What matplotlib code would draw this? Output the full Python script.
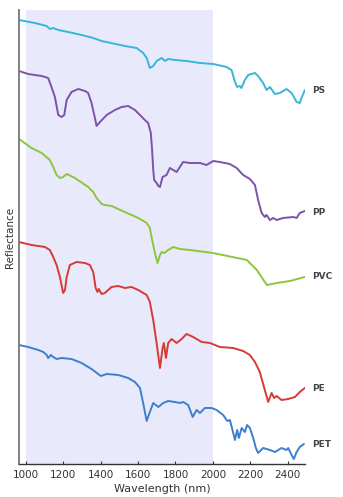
import matplotlib
matplotlib.use("Agg")
import matplotlib.pyplot as plt

# Wavelength (nm) and stacked reflectance (arbitrary units, offset per polymer)
ps_wl = [963, 1048, 1111, 1128, 1146, 1173, 1226, 1298, 1360, 1405, 1529, 1592, 1627, 1646, 1663, 1681,
         1699, 1726, 1743, 1761, 1797, 1859, 1931, 2002, 2073, 2100, 2118, 2130, 2144, 2153, 2171, 2189,
         2225, 2242, 2269, 2287, 2305, 2332, 2358, 2394, 2421, 2448, 2465, 2474, 2492]
ps_r = [4.44, 4.41, 4.38, 4.35, 4.36, 4.34, 4.32, 4.29, 4.26, 4.23, 4.18, 4.16, 4.11, 4.06, 3.96, 3.98,
        4.03, 4.06, 4.03, 4.05, 4.04, 4.03, 4.01, 4.00, 3.97, 3.94, 3.82, 3.77, 3.78, 3.76, 3.84, 3.89,
        3.91, 3.88, 3.81, 3.74, 3.77, 3.70, 3.71, 3.75, 3.71, 3.62, 3.61, 3.66, 3.74]

pp_wl = [963, 1012, 1084, 1119, 1137, 1155, 1173, 1191, 1205, 1218, 1244, 1280, 1316, 1333, 1351, 1369,
         1378, 1396, 1432, 1476, 1512, 1547, 1583, 1610, 1636, 1654, 1668, 1675, 1681, 1686, 1699, 1708,
         1717, 1731, 1752, 1770, 1806, 1841, 1877, 1931, 1966, 2002, 2037, 2091, 2127, 2162, 2198, 2225,
         2242, 2261, 2278, 2287, 2305, 2323, 2341, 2376, 2430, 2448, 2465, 2492]
pp_r = [3.93, 3.90, 3.88, 3.86, 3.77, 3.67, 3.49, 3.47, 3.49, 3.64, 3.72, 3.75, 3.73, 3.71, 3.61, 3.46,
        3.38, 3.42, 3.49, 3.54, 3.57, 3.58, 3.54, 3.49, 3.44, 3.41, 3.31, 3.14, 2.94, 2.84, 2.81, 2.78,
        2.77, 2.87, 2.89, 2.96, 2.92, 3.02, 3.01, 3.01, 2.99, 3.03, 3.02, 3.00, 2.96, 2.89, 2.85, 2.79,
        2.64, 2.51, 2.47, 2.49, 2.44, 2.46, 2.44, 2.46, 2.47, 2.46, 2.51, 2.53]

pvc_wl = [963, 1030, 1084, 1128, 1146, 1164, 1182, 1199, 1218, 1262, 1333, 1360, 1378, 1405, 1422, 1458,
          1529, 1601, 1646, 1663, 1675, 1690, 1704, 1717, 1726, 1740, 1761, 1788, 1824, 1877, 2000, 2182,
          2235, 2289, 2342, 2412, 2492]
pvc_r = [3.25, 3.16, 3.11, 3.04, 2.97, 2.89, 2.86, 2.87, 2.90, 2.86, 2.77, 2.72, 2.66, 2.60, 2.59, 2.58,
         2.52, 2.46, 2.41, 2.36, 2.24, 2.11, 2.01, 2.09, 2.12, 2.11, 2.14, 2.17, 2.15, 2.14, 2.11, 2.04,
         1.94, 1.79, 1.81, 1.83, 1.87]

pe_wl = [963, 1030, 1102, 1128, 1146, 1164, 1182, 1199, 1209, 1218, 1235, 1271, 1316, 1342, 1360, 1373,
         1383, 1390, 1405, 1422, 1458, 1494, 1529, 1565, 1601, 1646, 1663, 1681, 1699, 1717, 1731, 1738,
         1749, 1761, 1779, 1806, 1833, 1859, 1895, 1940, 1984, 2011, 2037, 2109, 2162, 2198, 2225, 2251,
         2278, 2296, 2314, 2328, 2341, 2367, 2403, 2439, 2465, 2492]
pe_r = [2.22, 2.19, 2.17, 2.14, 2.07, 1.99, 1.87, 1.71, 1.74, 1.87, 1.99, 2.02, 2.01, 1.99, 1.92, 1.76,
        1.72, 1.75, 1.70, 1.71, 1.77, 1.78, 1.76, 1.77, 1.74, 1.69, 1.62, 1.44, 1.21, 0.96, 1.16, 1.21,
        1.06, 1.21, 1.25, 1.21, 1.25, 1.30, 1.27, 1.22, 1.21, 1.19, 1.17, 1.16, 1.13, 1.09, 1.02, 0.92,
        0.74, 0.62, 0.71, 0.66, 0.68, 0.64, 0.65, 0.67, 0.72, 0.76]

pet_wl = [963, 1012, 1066, 1093, 1111, 1119, 1134, 1146, 1164, 1191, 1244, 1298, 1351, 1401, 1432, 1494,
          1547, 1583, 1610, 1627, 1646, 1663, 1681, 1708, 1734, 1761, 1797, 1824, 1841, 1868, 1892, 1913,
          1931, 1957, 1993, 2020, 2055, 2077, 2091, 2105, 2118, 2130, 2139, 2154, 2171, 2183, 2198, 2216,
          2230, 2242, 2269, 2305, 2332, 2367, 2394, 2403, 2421, 2433, 2448, 2465, 2487]
pet_r = [1.19, 1.17, 1.14, 1.12, 1.09, 1.06, 1.09, 1.07, 1.05, 1.06, 1.05, 1.01, 0.95, 0.88, 0.90, 0.89,
         0.86, 0.82, 0.76, 0.61, 0.43, 0.52, 0.61, 0.57, 0.61, 0.63, 0.62, 0.61, 0.62, 0.59, 0.47, 0.54,
         0.51, 0.56, 0.56, 0.54, 0.49, 0.43, 0.44, 0.34, 0.24, 0.34, 0.26, 0.36, 0.32, 0.39, 0.36, 0.26,
         0.16, 0.11, 0.16, 0.14, 0.12, 0.16, 0.14, 0.16, 0.09, 0.05, 0.12, 0.17, 0.20]

names = ["PS", "PP", "PVC", "PE", "PET"]
colors = ["#36b6d8", "#7d52a8", "#8cc63e", "#d63a37", "#3d7ecd"]
label_y = [3.73, 2.51, 1.87, 0.75, 0.19]

fig = plt.figure(figsize=(3.43, 4.97), dpi=100)
ax = fig.add_axes([0.0554, 0.0664, 0.835, 0.9135])

# highlighted 1000-2000 nm band
ax.axvspan(1000, 2000, color="#e8eafc", zorder=0, lw=0)

series = [(ps_wl, ps_r), (pp_wl, pp_r), (pvc_wl, pvc_r), (pe_wl, pe_r), (pet_wl, pet_r)]
for (wl, r), name, c, ly in zip(series, names, colors, label_y):
    ax.plot(wl, r, color=c, lw=1.4, solid_joinstyle="round", solid_capstyle="round", zorder=2)
    ax.text(2530, ly, name, color="#444444", fontsize=6.5, fontweight="bold",
            va="center", ha="left", clip_on=False)

ax.set_xlim(963, 2495)
ax.set_ylim(0, 4.54)
ax.set_xticks(range(1000, 2401, 200))
ax.tick_params(axis="x", direction="in", labelsize=7.5, colors="#333333",
               length=2.5, width=0.8, pad=4)
ax.set_yticks([])
for side in ("top", "right"):
    ax.spines[side].set_visible(False)
ax.spines["left"].set_color("#777777")
ax.spines["left"].set_linewidth(1.3)
ax.spines["bottom"].set_color("#333333")
ax.spines["bottom"].set_linewidth(1.0)
ax.set_xlabel("Wavelength (nm)", fontsize=8, color="#333333", labelpad=3)
ax.set_ylabel("Reflectance", fontsize=7.5, color="#333333", labelpad=3)

fig.savefig("out.png", dpi=100)
